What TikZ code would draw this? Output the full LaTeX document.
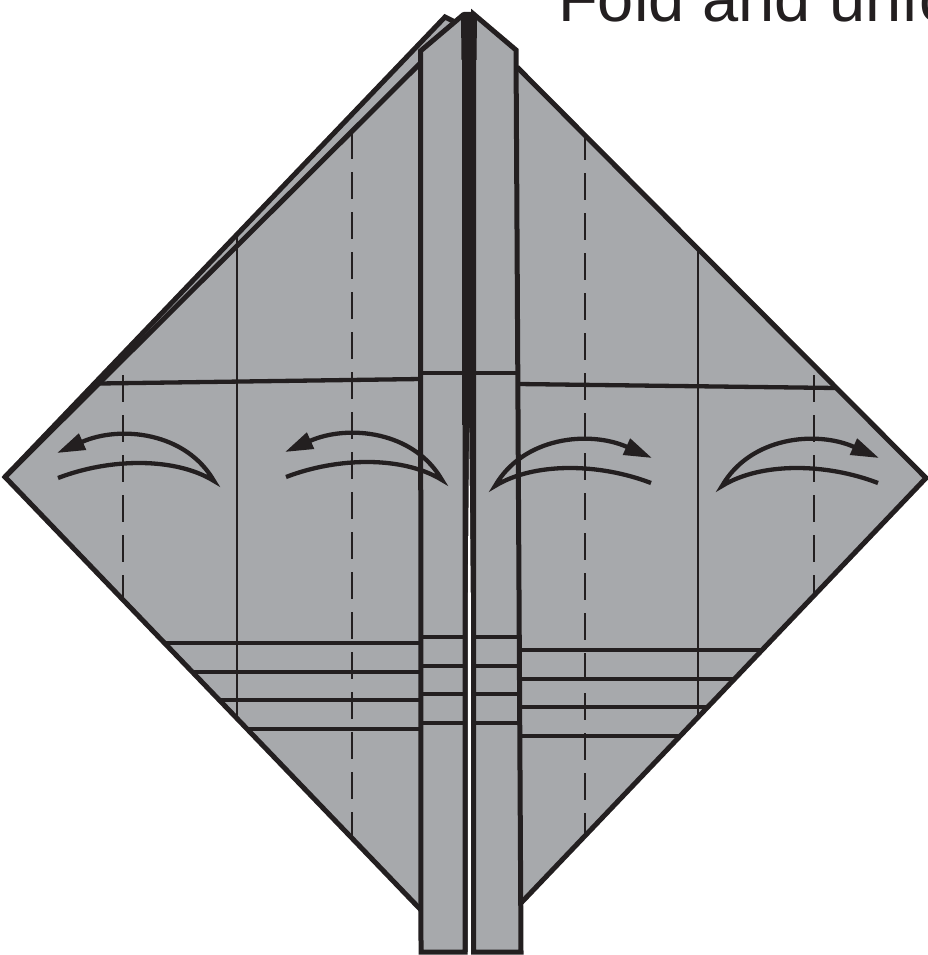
\documentclass[tikz,border=0pt]{standalone}
\usepackage{fontspec}
\setmainfont{Liberation Sans}
\usetikzlibrary{arrows.meta}
\definecolor{paper}{HTML}{A7A9AC}
\definecolor{ink}{HTML}{231F20}
\tikzset{
  edge/.style={draw=ink, line width=5pt, line join=miter},
  crease/.style={draw=ink, line width=1.3pt},
  valley/.style={draw=ink, line width=2.8pt, dash pattern=on 27pt off 13pt},
  foldline/.style={draw=ink, line width=4.6pt},
  foldarrow/.pic={
    \draw[ink, line width=4.3pt, line join=miter,
          -{Triangle[length=28pt,width=17pt]}]
      (-162,-9) .. controls (-110,-29) and (-45,-30) .. (-6,-6)
                .. controls (-34,-55) and (-100,-62) .. (-163,-34);
  }
}
\begin{document}
\begin{tikzpicture}[x=1pt,y=-1pt]
  \useasboundingbox (0,0) rectangle (928,955);
  \clip (0,0) rectangle (928,955);

  % heading, running off the top right corner
  \node[anchor=base west, text=ink, inner sep=0,
        font=\fontsize{65}{72}\selectfont] (title) at (558,22) {Fold and unfold};

  % paper surfaces
  \fill[paper] (5,477) -- (445,17) -- (455,22) -- (420.5,51) -- (420.5,910) -- cycle;
  \fill[paper] (516,50) -- (517,67) -- (926,478) -- (521,903) -- cycle;

  % thin creases
  \draw[crease] (237,235) -- (237,718);
  \draw[crease] (698,248) -- (698,717);

  % valley folds
  \draw[valley] (352,132) -- (352,838);
  \draw[valley] (585,133) -- (585,836);
  \draw[valley] (123,375) -- (123,600);
  \draw[valley] (814,375) -- (814,596);

  % upper horizontal folds
  \draw[line width=4.3pt, draw=ink] (99.5,383.5) -- (421,379);
  \draw[line width=4.3pt, draw=ink] (518,384) -- (836,388);

  % lower horizontal folds
  \foreach \y/\xl in {643/164.5, 672/192.3, 700/219.2, 729/247.1}
    \draw[foldline] (\xl,\y) -- (421,\y);
  \foreach \y/\xr in {650/762, 679/734.4, 707/707.7, 736/680}
    \draw[foldline] (519,\y) -- (\xr,\y);

  % outer edges of the square
  \draw[edge] (455,22) -- (445,17) -- (5,477) -- (421,910);
  \draw[edge] (5,477) -- (420.5,63);
  \draw[edge] (517,67) -- (926,478) -- (521,903);

  % gap between the two central flaps
  \fill[ink] (465,14) -- (473.5,14) -- (473.5,952) -- (465,952) -- cycle;
  \fill[white] (469.2,428) -- (471,620) -- (471,955) -- (467.5,955) -- (467.5,620) -- cycle;

  % central flaps
  \filldraw[fill=paper, edge] (420.5,51) -- (463,15) -- (465,15) -- (465,952) -- (421,952) -- cycle;
  \filldraw[fill=paper, edge] (473.5,14) -- (516,50) -- (521,952) -- (473.5,952) -- cycle;
  \fill[ink] (461,17) -- (463.5,12) -- (474.5,12) -- (477,15) -- (476.5,60) -- (461.5,60) -- cycle;
  \fill[ink] (462,60) rectangle (476,425);

  % folds across the flaps
  \draw[line width=4.3pt, draw=ink] (421,373) -- (465,373);
  \draw[line width=4.3pt, draw=ink] (473.5,373) -- (517,373);
  \foreach \y in {637,666,694,723} {
    \draw[foldline] (421,\y) -- (465,\y);
    \draw[foldline] (473.5,\y) -- (520,\y);
  }

  % fold-and-unfold arrows
  \pic at (220,487) {foldarrow};
  \pic at (448,486) {foldarrow};
  \pic[xscale=-1] at (489,492) {foldarrow};
  \pic[xscale=-1] at (716,492) {foldarrow};
\end{tikzpicture}
\end{document}
